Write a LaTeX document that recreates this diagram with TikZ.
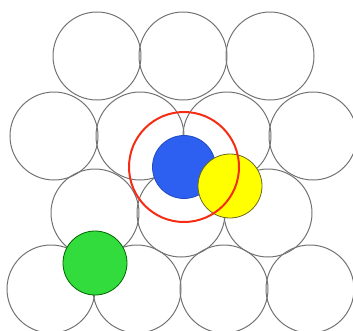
\documentclass[tikz,border=0pt]{standalone}
\usepackage{tikz}
\usepackage{xcolor}
\definecolor{atomblue}{RGB}{45,95,240}
\definecolor{atomyellow}{RGB}{255,255,0}
\definecolor{atomgreen}{RGB}{50,220,60}
\definecolor{ringred}{RGB}{245,45,20}

\begin{document}
\begin{tikzpicture}[x=1pt,y=-1pt,
    sphere/.style={draw=black!55,line width=1pt},
    atom/.style={line width=0.8pt}]
    \useasboundingbox (0,0) rectangle (353,330);
    % close-packed layer
    \foreach \x in {97,183,270}{
        \draw[sphere] (\x,56) circle (44);
    }
    \foreach \x in {54,140,227,313}{
        \draw[sphere] (\x,136) circle (44);
    }
    \foreach \x in {95,181,268}{
        \draw[sphere] (\x,213) circle (44);
    }
    \foreach \x in {51,137,224,310}{
        \draw[sphere] (\x,289) circle (44);
    }
    % atoms in the hollows
    \fill[atomgreen,draw=green!40!black,atom] (95,263) circle (32);
    \fill[atomblue,draw=atomblue!80!black,atom] (184,167) circle (31.5);
    \fill[atomyellow,draw=olive!70!black,atom] (230,186) circle (32);
    \draw[ringred,line width=2pt] (184,167) circle (55);
\end{tikzpicture}
\end{document}
